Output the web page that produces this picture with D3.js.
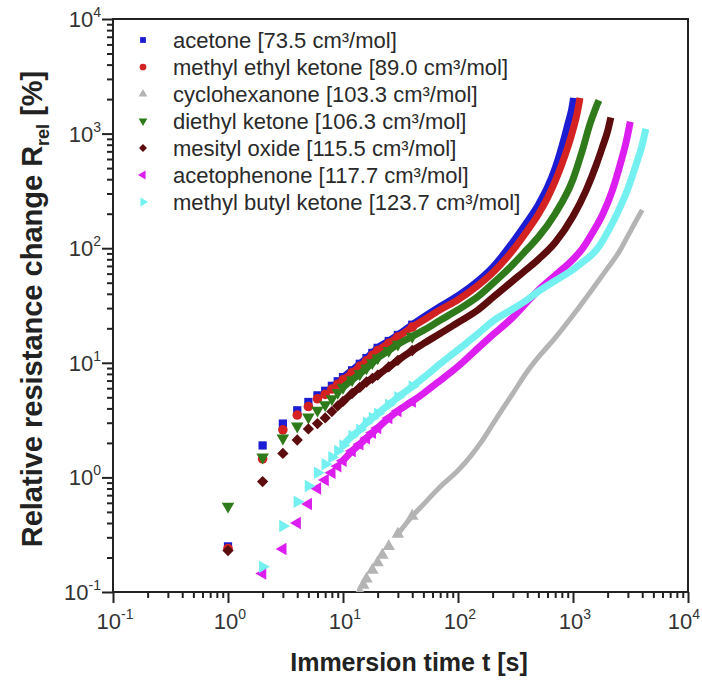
<!DOCTYPE html>
<html>
<head>
<meta charset="utf-8">
<script src="https://cdn.jsdelivr.net/npm/d3@7"></script>
<style>
  body { margin: 0; background: #fff; }
  svg { font-family: "Liberation Sans", Arial, sans-serif; }
</style>
</head>
<body>
<div id="chart"></div>
<script>
'use strict'

// [time s, R_rel %]
const acetone = [[1,0.25],[2,1.9],[3,2.95],[4,3.85],[5,4.55],[6,5.2],[7,5.7],[8,6.3],[9,6.9],[10,7.5],[12,8.6],[14,9.8],[16,11],[18,12.2],[20,13.5],[25,15.5],[30,17.5],[40,21.5],[50,25],[70,31],[100,38.5],[150,52],[200,68],[300,113],[400,170],[500,240],[600,340],[700,500],[800,770],[900,1200],[1000,1900],[1010,2050]];
const methylEthylKetone = [[1,0.24],[2,1.45],[3,2.6],[4,3.5],[5,4.15],[6,4.85],[7,5.3],[8,5.9],[9,6.5],[10,7.1],[12,8.2],[14,9.3],[16,10.4],[18,11.6],[20,12.8],[25,14.8],[30,16.8],[40,20.5],[50,23.5],[70,29],[100,35.5],[150,47.5],[200,61],[300,96],[400,142],[500,198],[600,275],[700,385],[800,540],[900,760],[1000,1080],[1100,1600],[1150,2050]];
const cyclohexanone = [[14,0.1],[15,0.115],[16,0.13],[18,0.155],[20,0.18],[22,0.21],[25,0.25],[30,0.32],[40,0.46],[50,0.58],[70,0.83],[100,1.15],[130,1.55],[160,2.05],[200,2.9],[250,4.1],[300,5.4],[400,8.4],[500,11.2],[700,16.5],[1000,26],[1500,45],[2000,67],[2500,92],[3000,128],[3500,170],[4000,215]];
const diethylKetone = [[1,0.56],[2,1.5],[3,2.2],[4,2.8],[5,3.35],[6,3.85],[7,4.3],[8,4.85],[9,5.5],[10,6.1],[12,7.1],[14,8],[16,9],[18,10],[20,11],[25,12.8],[30,14.5],[40,17],[50,19.2],[70,23.5],[100,29],[150,38],[200,49],[300,72],[400,98],[500,125],[700,200],[1000,400],[1200,700],[1400,1200],[1550,1600],[1680,1950]];
const mesitylOxide = [[1,0.23],[2,0.92],[3,1.62],[4,2.12],[5,2.65],[6,2.95],[7,3.3],[8,3.75],[9,4.2],[10,4.6],[12,5.4],[14,6.1],[16,6.8],[18,7.3],[20,7.8],[25,9.2],[30,10.5],[40,12.8],[50,14.7],[70,18],[100,22.5],[150,29],[200,37],[300,52],[400,66],[500,80],[700,112],[1000,190],[1300,320],[1600,540],[1800,760],[2000,1050],[2130,1380]];
const acetophenone = [[2,0.145],[3,0.237],[4,0.4],[5,0.586],[6,0.8],[7,0.95],[8,1.1],[9,1.25],[10,1.4],[12,1.7],[14,1.95],[16,2.2],[18,2.45],[20,2.7],[25,3.3],[30,3.8],[40,4.6],[50,5.4],[70,7],[100,9.3],[150,13.5],[200,17.5],[300,25],[400,34],[500,43],[700,58],[1000,80],[1200,98],[1500,140],[1800,195],[2200,320],[2600,560],[2900,850],[3150,1270]];
const methylButylKetone = [[2,0.166],[3,0.377],[4,0.614],[5,0.84],[6,1.1],[7,1.3],[8,1.5],[9,1.7],[10,1.9],[12,2.3],[14,2.6],[16,3],[18,3.3],[20,3.6],[25,4.3],[30,5],[40,6.2],[50,7.4],[70,9.8],[100,13],[150,18],[200,23],[300,29.5],[400,35.5],[500,42],[700,52],[1000,65],[1200,75],[1500,90],[1700,105],[2000,138],[2500,215],[3000,330],[3500,520],[4000,800],[4300,1100]];

const seriesLabels = ['acetone [73.5 cm³/mol]','methyl ethyl ketone [89.0 cm³/mol]','cyclohexanone [103.3 cm³/mol]','diethyl ketone [106.3 cm³/mol]','mesityl oxide [115.5 cm³/mol]','acetophenone [117.7 cm³/mol]','methyl butyl ketone [123.7 cm³/mol]'];
const seriesData = [acetone, methylEthylKetone, cyclohexanone, diethylKetone, mesitylOxide, acetophenone, methylButylKetone];
const seriesColors = ['#1c1cd2','#d42222','#b4b4b4','#2f7a1a','#5c0c0c','#dc1ff0','#74f0f0'];
const seriesShapes = ['square','circle','up','down','diamond','left','right'];
const lineFrom = [10,10,30,10,10,10,10];   // where the markers merge into a band

const xExponents = [-1,0,1,2,3,4];
const yExponents = [-1,0,1,2,3,4];

// Setting up the graph
const margin = {top: 19, right: 14, bottom: 88, left: 113};
const W = 702, H = 680;
const width = W - margin.left - margin.right;
const height = H - margin.top - margin.bottom;

const svg = d3.select('#chart').append('svg')
  .attr('width', W)
  .attr('height', H);

const x = d3.scaleLog().domain([0.1, 10000]).range([0, width]);
const y = d3.scaleLog().domain([0.1, 10000]).range([height, 0]);

const g = svg.append('g')
  .attr('transform', 'translate(' + margin.left + ',' + margin.top + ')');

function minorTicks() {
  const out = [];
  for (let e = -1; e < 4; e++) {
    for (let k = 2; k <= 9; k++) out.push(k * Math.pow(10, e));
  }
  return out;
}

// axes
const xAxis = d3.axisBottom(x).tickValues(minorTicks()).tickSize(6).tickFormat('');
const yAxis = d3.axisLeft(y).tickValues(minorTicks()).tickSize(6).tickFormat('');
const xMajor = d3.axisBottom(x).tickValues(xExponents.map(e => Math.pow(10, e))).tickSize(11).tickFormat('');
const yMajor = d3.axisLeft(y).tickValues(yExponents.map(e => Math.pow(10, e))).tickSize(11).tickFormat('');

[g.append('g').attr('transform', 'translate(0,' + height + ')').call(xAxis),
 g.append('g').attr('transform', 'translate(0,' + height + ')').call(xMajor),
 g.append('g').call(yAxis),
 g.append('g').call(yMajor)].forEach(a => {
  a.select('.domain').remove();
  a.selectAll('line').attr('stroke', '#222').attr('stroke-width', 2);
});

// frame
g.append('rect')
  .attr('width', width).attr('height', height)
  .attr('fill', 'none').attr('stroke', '#222').attr('stroke-width', 2);

// tick labels 10^n
function powLabel(sel, e) {
  sel.append('tspan').text('10');
  sel.append('tspan').attr('dy', -10).attr('font-size', 14).text(String(e));
}
xExponents.forEach((e, i) => {
  const last = i === xExponents.length - 1;
  const t = g.append('text')
    .attr('x', last ? width + 12 : x(Math.pow(10, e)) + 2)
    .attr('y', height + 37)
    .attr('text-anchor', last ? 'end' : 'middle')
    .attr('font-size', 22).attr('fill', '#333');
  powLabel(t, e);
});
yExponents.forEach(e => {
  const t = g.append('text')
    .attr('x', -12)
    .attr('y', y(Math.pow(10, e)) + 8)
    .attr('text-anchor', 'end')
    .attr('font-size', 22).attr('fill', '#333');
  powLabel(t, e);
});

// axis titles
svg.append('text')
  .attr('x', 409)
  .attr('y', 671)
  .attr('text-anchor', 'middle')
  .attr('font-size', 25).attr('font-weight', 'bold').attr('fill', '#222')
  .text('Immersion time t [s]');

const yt = svg.append('text')
  .attr('transform', 'translate(42,309) rotate(-90)')
  .attr('text-anchor', 'middle')
  .attr('font-size', 29).attr('font-weight', 'bold').attr('fill', '#222');
yt.append('tspan').text('Relative resistance change R');
yt.append('tspan').attr('dy', 7).attr('font-size', 18).text('rel');
yt.append('tspan').attr('dy', -7).text(' [%]');

// marker shapes
function symbolPath(shape, size) {
  if (shape === 'square') return d3.symbol(d3.symbolSquare, size * 0.8)();
  if (shape === 'circle') return d3.symbol(d3.symbolCircle, size * 0.85)();
  if (shape === 'diamond') return d3.symbol(d3.symbolSquare, size * 0.75)();
  return d3.symbol(d3.symbolTriangle, size * 0.8)();
}
const rot = {square: 0, circle: 0, diamond: 45, up: 0, down: 180, left: -90, right: 90};

const clip = svg.append('defs').append('clipPath').attr('id', 'plotclip');
clip.append('rect').attr('width', width).attr('height', height);

const plot = g.append('g').attr('clip-path', 'url(#plotclip)');

const line = d3.line()
  .x(d => x(d[0]))
  .y(d => y(d[1]))
  .curve(d3.curveMonotoneX);

seriesData.forEach((data, i) => {
  const s = plot.append('g');
  const band = data.filter(d => d[0] >= lineFrom[i]);
  s.append('path')
    .datum(band)
    .attr('d', line)
    .attr('fill', 'none')
    .attr('stroke', seriesColors[i])
    .attr('stroke-width', i === 2 ? 5 : 7);
  s.selectAll('path.pt')
    .data(data.filter(d => d[0] < 50))
    .enter().append('path')
    .attr('class', 'pt')
    .attr('d', symbolPath(seriesShapes[i], 85))
    .attr('transform', d => 'translate(' + x(d[0]) + ',' + y(d[1]) + ') rotate(' + rot[seriesShapes[i]] + ')')
    .attr('fill', seriesColors[i]);
});

// legend
const legend = g.append('g').attr('transform', 'translate(30,21)');
seriesLabels.forEach((label, i) => {
  const row = legend.append('g').attr('transform', 'translate(0,' + (i * 27) + ')');
  row.append('path')
    .attr('d', symbolPath(seriesShapes[i], 42))
    .attr('transform', 'rotate(' + rot[seriesShapes[i]] + ')')
    .attr('fill', seriesColors[i]);
  row.append('text')
    .attr('x', 30)
    .attr('y', 8)
    .attr('font-size', 22).attr('fill', '#2a2a2a')
    .text(label);
});
</script>
</body>
</html>
